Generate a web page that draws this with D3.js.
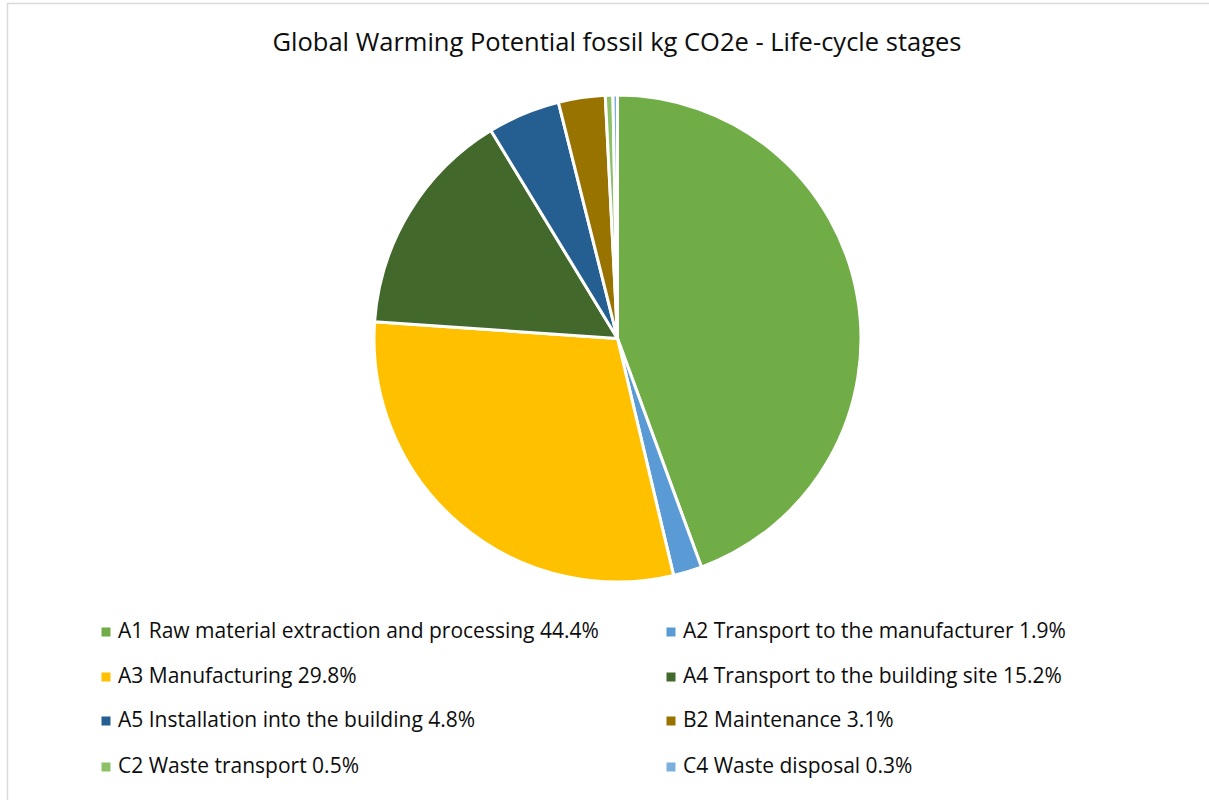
<!DOCTYPE html>
<html><head><meta charset="utf-8">
<script src="https://cdn.jsdelivr.net/npm/d3@7"></script>
<style>body{margin:0;background:#fff;}svg{display:block;}</style>
</head><body>
<svg id="chart" width="1209" height="800"></svg>
<script>
const categories = ["A1 Raw material extraction and processing","A2 Transport to the manufacturer","A3 Manufacturing","A4 Transport to the building site","A5 Installation into the building","B2 Maintenance","C2 Waste transport","C4 Waste disposal"];
const values = [44.4, 1.9, 29.8, 15.2, 4.8, 3.1, 0.5, 0.3];
const labels = ["44.4%","1.9%","29.8%","15.2%","4.8%","3.1%","0.5%","0.3%"];
const colors = ["#70AD47","#5B9BD5","#FFC000","#43682B","#255E91","#997300","#8CC168","#7CAFDD"];
const title = "Global Warming Potential fossil kg CO2e - Life-cycle stages";

const svg = d3.select("#chart");
const FONT = "'Open Sans', sans-serif";
svg.append("rect").attr("x",7.5).attr("y",3.5).attr("width",1220).attr("height",820)
  .attr("fill","#fff").attr("stroke","#d9d9d9").attr("stroke-width",1.5);

svg.append("text").attr("x",617).attr("y",44).attr("text-anchor","middle")
  .attr("dominant-baseline","middle").attr("font-family",FONT).attr("font-size",25.5).attr("fill","#0d0d0d").text(title);

const cx = 617.5, cy = 338.5, R = 243.5;
const pie = d3.pie().sort(null).value(d=>d.v);
const arc = d3.arc().innerRadius(0).outerRadius(R);
const data = pie(values.map((v,i)=>({v,i})));
svg.append("g").attr("transform",`translate(${cx},${cy})`).selectAll("path").data(data).join("path")
  .attr("d",arc).attr("fill",d=>colors[d.data.i]).attr("stroke","#fff").attr("stroke-width",3).attr("stroke-linejoin","round");

const colX = [106, 671], rowY = [632, 677, 721, 767];
const lg = svg.append("g");
categories.forEach((c,i)=>{
  const x = colX[i%2], y = rowY[Math.floor(i/2)];
  lg.append("rect").attr("x",x-4.5).attr("y",y-4.5).attr("width",9).attr("height",9).attr("fill",colors[i]);
  lg.append("text").attr("x",x+12).attr("y",y).attr("dominant-baseline","middle")
    .attr("font-family",FONT).attr("font-size",21).attr("fill","#0d0d0d").text(c+" "+labels[i]);
});
</script>
</body></html>
